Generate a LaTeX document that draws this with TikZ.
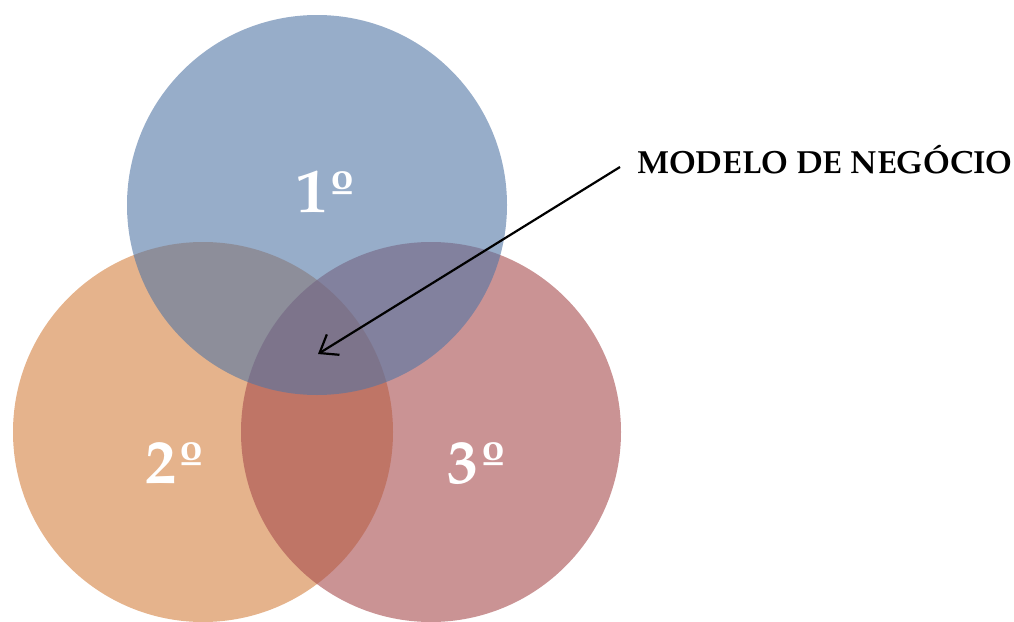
\documentclass[tikz,border=0pt]{standalone}
\usepackage{fontspec}
\setmainfont{texgyrepagella}[Extension=.otf,UprightFont=*-regular,BoldFont=*-bold,ItalicFont=*-italic,BoldItalicFont=*-bolditalic]
\usetikzlibrary{arrows.meta}
\definecolor{cblue}{RGB}{82,118,165}
\definecolor{corange}{RGB}{212,128,63}
\definecolor{cred}{RGB}{167,75,77}
\tikzset{
  venn/.style={fill opacity=0.6, draw=none},
  num/.style={text=white, font=\bfseries\fontsize{62}{62}\selectfont, inner sep=0pt},
  lbl/.style={text=black, font=\bfseries\fontsize{32}{32}\selectfont, inner sep=0pt},
  pointer/.style={line width=2.2pt, -{Straight Barb[length=16pt,width=24pt,line width=2.2pt]}}
}
\begin{document}
\begin{tikzpicture}[x=1pt,y=-1pt]
\useasboundingbox (0,0) rectangle (1014,621);
\fill[venn, corange] (203,432) circle (190);
\fill[venn, cred] (431,432) circle (190);
\fill[venn, cblue] (317,205) circle (190);
\node[num, anchor=base] (n1) at (327,212) {1º};
\node[num, anchor=base] (n2) at (176,483) {2º};
\node[num, anchor=base] (n3) at (478,483) {3º};
\node[lbl, anchor=base west] (label) at (637,173) {MODELO DE NEGÓCIO};
\coordinate (start) at (620,167);
\coordinate (tip) at (318,354);
\draw[pointer] (start) -- (tip);
\end{tikzpicture}
\end{document}
